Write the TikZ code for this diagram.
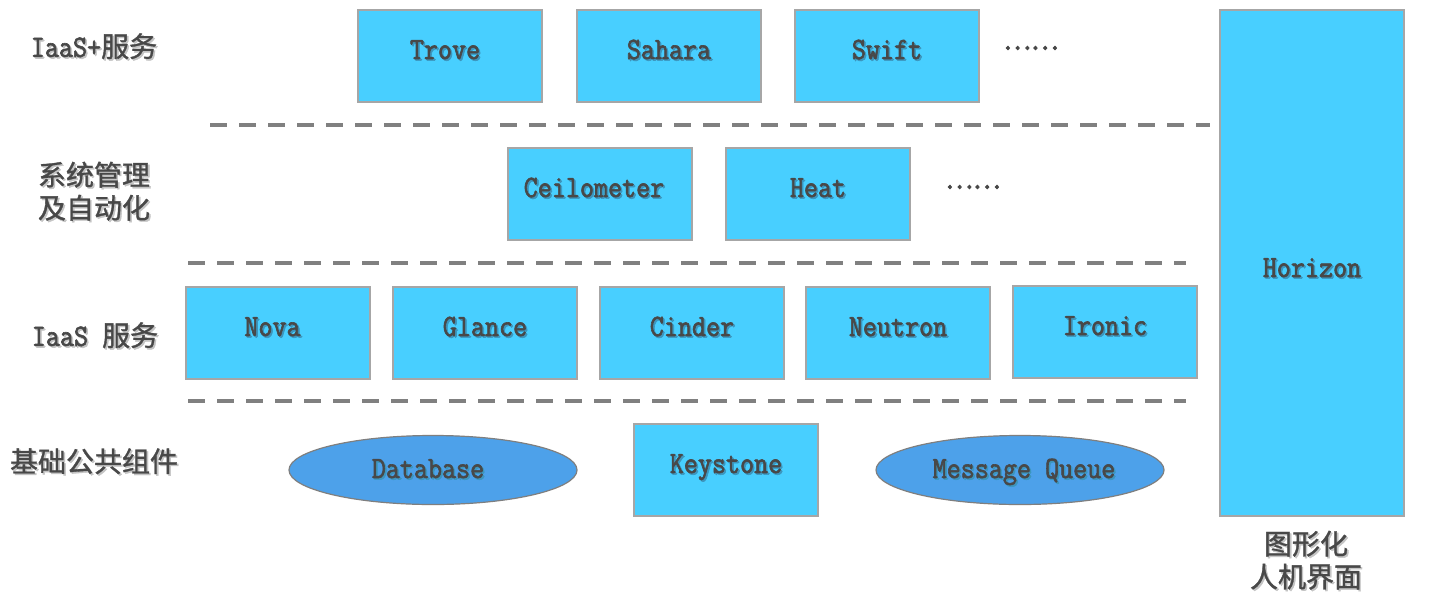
\documentclass[tikz,border=0pt]{standalone}
\usepackage{fontspec}
\usepackage{xcolor}
\usetikzlibrary{shapes.geometric}
\newfontfamily\latf[FakeStretch=0.88,FakeBold=2]{Latin Modern Mono}
\newfontfamily\cjkf[FakeBold=1.2]{Noto Sans CJK SC}
\newfontfamily\dotf[FakeBold=3]{Noto Sans CJK SC}
\definecolor{boxfill}{HTML}{48CFFF}
\definecolor{boxdraw}{HTML}{A6A6A6}
\definecolor{ellfill}{HTML}{4DA1EA}
\definecolor{elldraw}{HTML}{7F7F7F}
\definecolor{textc}{HTML}{484848}
\definecolor{shblue}{HTML}{3C96BE}
\definecolor{shwhite}{HTML}{C4C4C4}
\definecolor{dashc}{HTML}{808080}
\newcommand\shtxt[2]{\makebox[0pt][l]{\raisebox{-1.6pt}{\hspace*{1.6pt}\textcolor{#1}{#2}}}#2}
\newcommand\lt[1]{\shtxt{shblue}{#1}}
\newcommand\wt[1]{\shtxt{shwhite}{#1}}
\begin{document}
\begin{tikzpicture}[x=1pt,y=-1pt,
  svc/.style={rectangle, draw=boxdraw, line width=1.5pt, fill=boxfill,
    minimum width=184pt, minimum height=92pt, inner sep=0pt,
    text=textc, font=\latf\fontsize{31}{35}\selectfont,
    text height=19pt, text depth=13pt},
  bigsvc/.style={svc, minimum height=506pt, text height=28pt, text depth=0pt},
  infra/.style={ellipse, draw=elldraw, line width=1.2pt, fill=ellfill,
    minimum width=288pt, minimum height=69pt, inner sep=0pt,
    text=textc, font=\latf\fontsize{31}{35}\selectfont,
    text height=16pt, text depth=0pt},
  layerlabel/.style={text=textc, align=center, inner sep=0pt,
    font=\fontsize{28}{33}\selectfont},
  more/.style={text=textc, inner sep=0pt, font=\dotf\fontsize{26}{30}\selectfont},
  sep/.style={draw=dashc, line width=4pt, dash pattern=on 17pt off 12pt}
]
\useasboundingbox[fill=white] (0,0) rectangle (1430,595);

% layer separators
\coordinate (s1a) at (210,125); \coordinate (s1b) at (1210,125);
\coordinate (s2a) at (188,263); \coordinate (s2b) at (1186,263);
\coordinate (s3a) at (188,401); \coordinate (s3b) at (1186,401);
\draw[sep] (s1a) -- (s1b);
\draw[sep] (s2a) -- (s2b);
\draw[sep] (s3a) -- (s3b);

% IaaS+ services
\node[svc] (trove)  at (450,56) {\hspace*{-10pt}\lt{Trove}};
\node[svc] (sahara) at (669,56) {\lt{Sahara}};
\node[svc] (swift)  at (887,56) {\lt{Swift}};
\node[more] (more1) at (1031,48) {……};

% management and automation
\node[svc] (ceilo) at (600,194) {\hspace*{-12pt}\lt{Ceilometer}};
\node[svc] (heat)  at (818,194) {\lt{Heat}};
\node[more] (more2) at (973,187) {……};

% IaaS services
\node[svc] (nova)    at (278,333) {\hspace*{-11pt}\lt{Nova}};
\node[svc] (glance)  at (485,333) {\lt{Glance}};
\node[svc] (cinder)  at (692,333) {\lt{Cinder}};
\node[svc] (neutron) at (898,333) {\lt{Neutron}};
\node[svc] (ironic)  at (1105,332) {\lt{Ironic}};

% common infrastructure
\node[infra] (db) at (433,470) {\hspace*{-10pt}\lt{Database}};
\node[svc] (keystone) at (726,470) {\lt{Keystone}};
\node[infra] (mq) at (1020,470) {\lt{Message Queue}\hspace*{-8pt}};

% dashboard
\node[bigsvc] (horizon) at (1312,263) {\lt{Horizon}};

% layer labels
\node[layerlabel] (l1) at (94,47) {\wt{{\latf\fontsize{31}{33}\selectfont IaaS+}\cjkf 服务}};
\node[layerlabel] (l2) at (94,192) {\wt{\cjkf 系统管理}\\\wt{\cjkf 及自动化}};
\node[layerlabel] (l3) at (95,336) {\wt{{\latf\fontsize{31}{33}\selectfont IaaS }\cjkf 服务}};
\node[layerlabel] (l4) at (94,462) {\wt{\cjkf 基础公共组件}};
\node[layerlabel] (l5) at (1306,561) {\wt{\cjkf 图形化}\\\wt{\cjkf 人机界面}};
\end{tikzpicture}
\end{document}
